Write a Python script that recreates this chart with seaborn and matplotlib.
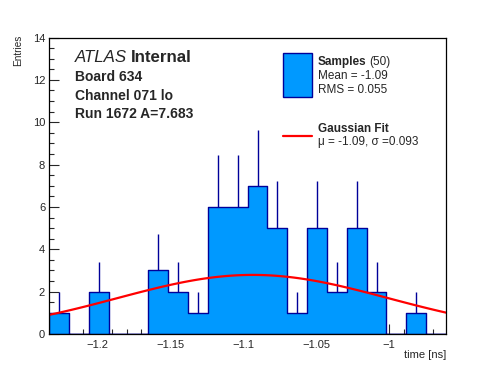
import numpy as np
import pandas as pd
import matplotlib
matplotlib.use("Agg")
import matplotlib.pyplot as plt
from matplotlib.patches import Rectangle
from matplotlib.lines import Line2D
import seaborn as sns

# ---- data ----
x_min, x_max = -1.2331, -0.9609
n_bins = 20
counts = [1, 0, 2, 0, 0, 3, 2, 1, 6, 6, 7, 5, 1, 5, 2, 5, 2, 0, 1, 0]
fit_amp = 2.79
fit_mu = -1.0935
fit_sigma = 0.093
x_ticks = [-1.2, -1.15, -1.1, -1.05, -1.0]
x_tick_labels = ["\u22121.2", "\u22121.15", "\u22121.1", "\u22121.05", "\u22121"]
y_ticks = [0, 2, 4, 6, 8, 10, 12, 14]

FILL = "#0099ff"
EDGE = "#000099"
RED = "#ff0000"

sns.set_style("ticks")
plt.rcParams["font.family"] = ["Liberation Sans", "DejaVu Sans"]

W, H = 496, 372
fig = plt.figure(figsize=(W / 100, H / 100), dpi=100)
L, R, T, B = 49.3, 446, 37.5, 334
ax = fig.add_axes([L / W, 1 - B / H, (R - L) / W, (B - T) / H])

edges = np.linspace(x_min, x_max, n_bins + 1)
centers = 0.5 * (edges[:-1] + edges[1:])
df = pd.DataFrame({"x": centers, "w": counts})

sns.histplot(data=df, x="x", weights="w", bins=n_bins, binrange=(x_min, x_max),
             element="step", fill=True, color=FILL, alpha=1.0, edgecolor=EDGE,
             linewidth=1.0, ax=ax)

cnt = np.array(counts, dtype=float)
m = cnt > 0
ax.vlines(centers[m], cnt[m], cnt[m] + np.sqrt(cnt[m]), color=EDGE, lw=1.0)

xf = np.linspace(x_min, x_max, 100)
yf = fit_amp * np.exp(-0.5 * ((xf - fit_mu) / fit_sigma) ** 2)
sns.lineplot(x=xf, y=yf, color=RED, lw=1.6, ax=ax)

ax.set_xlim(x_min, x_max)
ax.set_ylim(0, 14)
ax.set_xticks(x_ticks)
ax.set_xticklabels(x_tick_labels)
ax.set_yticks(y_ticks)
ax.set_xticks(np.arange(-1.23, -0.96, 0.01), minor=True)
ax.set_yticks(np.arange(0, 14.01, 0.5), minor=True)
ax.tick_params(axis="both", which="major", direction="in", length=7,
               width=0.8, labelsize=8, pad=3, top=False, right=False)
ax.tick_params(axis="both", which="minor", direction="in", length=3.5,
               width=0.8, top=False, right=False)
ax.tick_params(axis="x", which="major", pad=4)
ax.set_xlabel("")
ax.set_ylabel("")
for s in ax.spines.values():
    s.set_visible(True)
    s.set_linewidth(0.9)
    s.set_color("black")

def fx(px):
    return px / W

def fy(py):
    return 1 - py / H

# axis titles
fig.text(fx(446), fy(355), "time [ns]", ha="right", va="center", fontsize=8)
fig.text(fx(18.5), fy(35), "Entries", ha="center", va="top", rotation=90, fontsize=7.2)

fig.canvas.draw()
rend = fig.canvas.get_renderer()

# ATLAS label
t1 = fig.text(fx(75), fy(58), "ATLAS", ha="left", va="center", fontsize=12.2,
              style="italic")
bb = t1.get_window_extent(renderer=rend)
fig.text(bb.x1 / W + 4 / W, fy(58), "Internal", ha="left", va="center",
         fontsize=12.2, weight="bold")
for yy, s in [(77, "Board 634"), (96, "Channel 071 lo"), (114, "Run 1672 A=7.683")]:
    fig.text(fx(75), fy(yy), s, ha="left", va="center", fontsize=10, weight="bold")

# legend
fig.patches.append(Rectangle((fx(283), fy(97)), fx(312) - fx(283), fy(53) - fy(97),
                             transform=fig.transFigure, facecolor=FILL,
                             edgecolor=EDGE, lw=1.0, figure=fig))
fig.lines.append(Line2D([fx(283), fx(312)], [fy(136), fy(136)],
                        transform=fig.transFigure, color=RED, lw=1.6, figure=fig))
tx = fx(318)
ts = fig.text(tx, fy(62), "Samples", ha="left", va="center", fontsize=8.5,
              weight="bold")
bb = ts.get_window_extent(renderer=rend)
fig.text(bb.x1 / W + 3 / W, fy(62), "(50)", ha="left", va="center", fontsize=8.5)
fig.text(tx, fy(76), "Mean = -1.09", ha="left", va="center", fontsize=8.5)
fig.text(tx, fy(90), "RMS = 0.055", ha="left", va="center", fontsize=8.5)
fig.text(tx, fy(129), "Gaussian Fit", ha="left", va="center", fontsize=8.5,
         weight="bold")
fig.text(tx, fy(142), "\u03bc = -1.09, \u03c3 =0.093", ha="left", va="center",
         fontsize=8.5)

fig.savefig("out.png", dpi=100)
